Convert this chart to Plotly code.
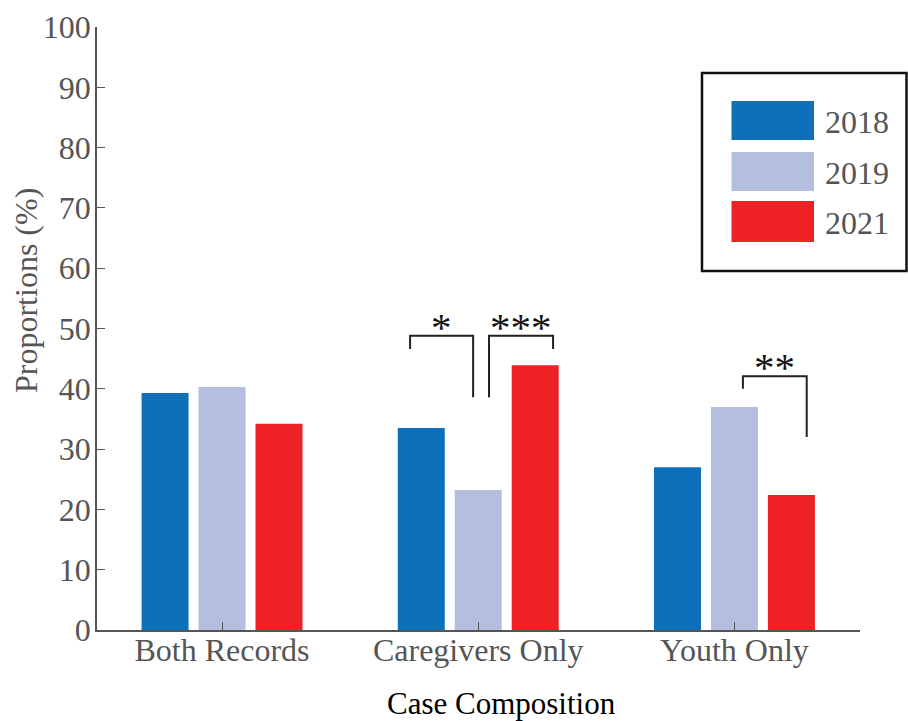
import plotly.graph_objects as go

# Case composition proportions by year
categories = ["Both Records", "Caregivers Only", "Youth Only"]
years = ["2018", "2019", "2021"]
values_2018 = [39.3, 33.5, 27.0]
values_2019 = [40.3, 23.2, 37.0]
values_2021 = [34.2, 43.9, 22.4]
colors = ["#0E70B8", "#B4BFDF", "#EE2124"]
y_ticks = [0, 10, 20, 30, 40, 50, 60, 70, 80, 90, 100]

# significance brackets: (x_left, x_right, y_top, y_left_end, y_right_end, label)
brackets = [
    (0.734, 0.980, 48.8, 46.6, 38.6, "*"),
    (1.042, 1.292, 48.8, 38.6, 46.6, "***"),
    (2.033, 2.282, 42.1, 40.0, 32.0, "**"),
]

FONT = "Liberation Serif, Times New Roman, serif"
GRAY = "#555555"

# plot-area geometry in pixels (used for the hand-drawn legend)
W, H = 908, 721
L, R, T, B = 97, 48, 27, 91
PW, PH = W - L - R, H - T - B


def px_x(x):
    return (x - L) / PW


def px_y(y):
    return (H - B - y) / PH


fig = go.Figure()
series = [values_2018, values_2019, values_2021]
for name, vals, col in zip(years, series, colors):
    fig.add_trace(go.Bar(
        x=list(range(len(categories))), y=vals, name=name,
        marker=dict(color=col, line=dict(width=0)),
        showlegend=False,
    ))

# brackets and stars
for xl, xr, yt, yl, yr, lab in brackets:
    fig.add_trace(go.Scatter(
        x=[xl, xl, xr, xr], y=[yl, yt, yt, yr], mode="lines",
        line=dict(color="#222222", width=2), showlegend=False,
        hoverinfo="skip",
    ))
    fig.add_annotation(
        x=(xl + xr) / 2, y=yt, xref="x", yref="y", text=lab,
        showarrow=False, yanchor="bottom", yshift=-16,
        font=dict(family=FONT, size=41, color="#111111"),
    )

# legend box
fig.add_shape(type="rect", xref="paper", yref="paper",
              x0=px_x(702), x1=px_x(906.5), y0=px_y(271), y1=px_y(73),
              line=dict(color="#111111", width=2.5), fillcolor="white")
sw_top = [101, 152, 201]
sw_bot = [140, 191, 242]
for i, (name, col) in enumerate(zip(years, colors)):
    fig.add_shape(type="rect", xref="paper", yref="paper",
                  x0=px_x(731.5), x1=px_x(814), y0=px_y(sw_bot[i]),
                  y1=px_y(sw_top[i]), line=dict(width=0), fillcolor=col)
    fig.add_annotation(x=px_x(823), y=px_y((sw_top[i] + sw_bot[i]) / 2 + 1.5),
                       xref="paper", yref="paper",
                       text=name, showarrow=False, xanchor="left",
                       yanchor="middle",
                       font=dict(family=FONT, size=32, color=GRAY))

# axis titles
fig.add_annotation(x=px_x(26), y=px_y(291), xref="paper", yref="paper",
                   text="Proportions (%)", textangle=-90, showarrow=False,
                   xanchor="center", yanchor="middle",
                   font=dict(family=FONT, size=32, color=GRAY))
fig.add_annotation(x=px_x(501), y=px_y(703), xref="paper", yref="paper",
                   text="Case Composition", showarrow=False,
                   xanchor="center", yanchor="middle",
                   font=dict(family=FONT, size=31, color="#000000"))

fig.update_layout(
    width=W, height=H,
    margin=dict(l=L, r=R, t=T, b=B, autoexpand=False),
    plot_bgcolor="white", paper_bgcolor="white",
    barmode="group", bargap=0.333, bargroupgap=0.175,
    font=dict(family=FONT, size=32, color=GRAY),
    xaxis=dict(
        range=[-0.488, 2.490], tickmode="array",
        tickvals=list(range(len(categories))), ticktext=categories,
        ticks="inside", ticklen=8, tickcolor=GRAY, tickwidth=1.2,
        showline=True, linecolor=GRAY, linewidth=1.5,
        showgrid=False, zeroline=False, automargin=False,
        ticklabelstandoff=-9,
        tickfont=dict(family=FONT, size=32, color=GRAY),
    ),
    yaxis=dict(
        range=[0, 100], tickmode="array", tickvals=y_ticks,
        ticks="inside", ticklen=8, tickcolor=GRAY, tickwidth=1.2,
        showline=True, linecolor=GRAY, linewidth=1.5,
        showgrid=False, zeroline=False, automargin=False,
        ticklabelstandoff=-2,
        tickfont=dict(family=FONT, size=32, color=GRAY),
    ),
)

fig.write_html("out.html")
